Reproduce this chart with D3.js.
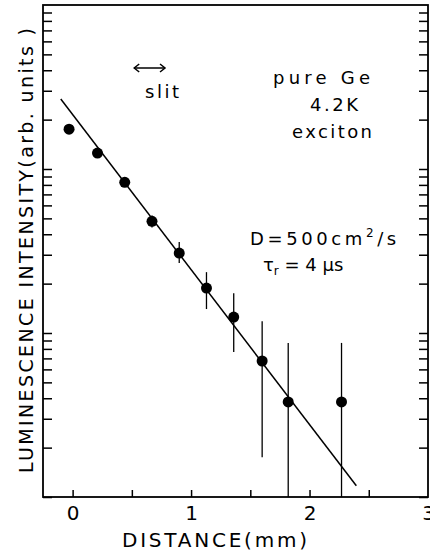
<!DOCTYPE html>
<html><head><meta charset="utf-8">
<script src="https://cdn.jsdelivr.net/npm/d3@7"></script>
<style>body{margin:0;background:#fff}svg{display:block}text{font-family:"DejaVu Sans",sans-serif;fill:#000}</style>
</head><body>
<script>
const distance = [-0.03, 0.21, 0.44, 0.67, 0.90, 1.13, 1.36, 1.60, 1.82, 2.27];
const intensity = [175, 125, 83, 48, 30.7, 18.8, 12.5, 6.75, 3.8, 3.8];
const errLow  = [null, null, null, 44, 26.7, 14.0, 7.66, 1.75, 1, 1];
const errHigh = [null, null, null, 52, 35.9, 23.5, 17.5, 11.8, 8.7, 8.7];
const fitX = [-0.10, 2.395];
const fitY = [267, 1.17];
const xTickLabels = [0, 1, 2, 3];
const xMinorTicks = [0, 0.5, 1, 1.5, 2, 2.5];
const slit = [0.52, 0.78];

const W = 430, H = 554;
const m = {l: 43, r: 428, t: 5, b: 497};
const svg = d3.select("body").append("svg").attr("width", W).attr("height", H);
const x = d3.scaleLinear().domain([-0.25, 3]).range([m.l, m.r]);
const y = d3.scaleLog().domain([1, 1000]).range([m.b, m.t]);

// log ticks
const yTicks = [];
for (let k = 0; k < 3; k++) for (let d = 1; d <= 9; d++) yTicks.push(d * Math.pow(10, k));
const tl = 9;
svg.append("g").attr("transform", `translate(${m.l},0)`)
  .call(d3.axisRight(y).tickValues(yTicks).tickSize(tl).tickFormat(""))
  .call(g => g.select(".domain").remove())
  .selectAll("line").attr("stroke-width", 1.5);
svg.append("g").attr("transform", `translate(${m.r},0)`)
  .call(d3.axisLeft(y).tickValues(yTicks).tickSize(tl).tickFormat(""))
  .call(g => g.select(".domain").remove())
  .selectAll("line").attr("stroke-width", 1.5);
svg.append("g").attr("transform", `translate(0,${m.b})`)
  .call(d3.axisTop(x).tickValues(xMinorTicks).tickSize(7).tickFormat(""))
  .call(g => g.select(".domain").remove())
  .selectAll("line").attr("stroke-width", 1.5);
svg.append("g").attr("transform", `translate(0,${m.b})`)
  .call(d3.axisBottom(x).tickValues(xTickLabels).tickSize(0).tickPadding(9).tickFormat(d3.format("d")))
  .call(g => g.select(".domain").remove())
  .selectAll("text").attr("font-size", 20).attr("font-family", "DejaVu Sans").attr("fill", "#000");

// frame
svg.append("rect").attr("x", m.l).attr("y", m.t).attr("width", m.r - m.l).attr("height", m.b - m.t)
  .attr("fill", "none").attr("stroke", "#000").attr("stroke-width", 1.8);

// fit line
svg.append("line").attr("x1", x(fitX[0])).attr("y1", y(fitY[0])).attr("x2", x(fitX[1])).attr("y2", y(fitY[1]))
  .attr("stroke", "#000").attr("stroke-width", 1.5);

// error bars
distance.forEach((d, i) => {
  if (errLow[i] == null) return;
  svg.append("line").attr("x1", x(d)).attr("x2", x(d)).attr("y1", y(errLow[i])).attr("y2", y(errHigh[i]))
    .attr("stroke", "#000").attr("stroke-width", 1.3);
});
// points
svg.selectAll("circle.pt").data(distance).join("circle").attr("class", "pt")
  .attr("cx", d => x(d)).attr("cy", (d, i) => y(intensity[i])).attr("r", 5.5).attr("fill", "#000");

// slit arrow
const ay = 68;
svg.append("line").attr("x1", x(slit[0])).attr("x2", x(slit[1])).attr("y1", ay).attr("y2", ay).attr("stroke", "#000").attr("stroke-width", 1.5);
svg.append("path").attr("d", `M${x(slit[0]) + 5},${ay - 4}L${x(slit[0])},${ay}L${x(slit[0]) + 5},${ay + 4}M${x(slit[1]) - 5},${ay - 4}L${x(slit[1])},${ay}L${x(slit[1]) - 5},${ay + 4}`)
  .attr("fill", "none").attr("stroke", "#000").attr("stroke-width", 1.5);

function txt(s, xx, yy, fs, len) {
  const t = svg.append("text").attr("x", xx).attr("y", yy).attr("font-size", fs).text(s);
  if (len) t.attr("textLength", len).attr("lengthAdjust", "spacing");
  return t;
}
txt("slit", 145, 98, 18, 34);
txt("pure  Ge", 273, 84, 18, 97);
txt("4.2K", 310, 111, 18, 48);
txt("exciton", 292, 138, 18, 80);
const dt = svg.append("text").attr("x", 250).attr("y", 245).attr("font-size", 18).style("letter-spacing", "3.6px");
dt.append("tspan").text("D=500cm");
dt.append("tspan").attr("font-size", 12).attr("dy", -8).text("2");
dt.append("tspan").attr("dy", 8).text("/s");
const tt = svg.append("text").attr("x", 263).attr("y", 271).attr("font-size", 18);
tt.append("tspan").text("τ");
tt.append("tspan").attr("font-size", 12).attr("dy", 4).text("r");
tt.append("tspan").attr("dy", -4).text(" = 4 μs");

// axis titles
txt("DISTANCE(mm)", 122, 547, 20, 185);
svg.append("text").attr("transform", "translate(33,473) rotate(-90)").attr("font-size", 19)
  .attr("textLength", 445).attr("lengthAdjust", "spacing").text("LUMINESCENCE INTENSITY(arb. units )");
</script>
</body></html>
